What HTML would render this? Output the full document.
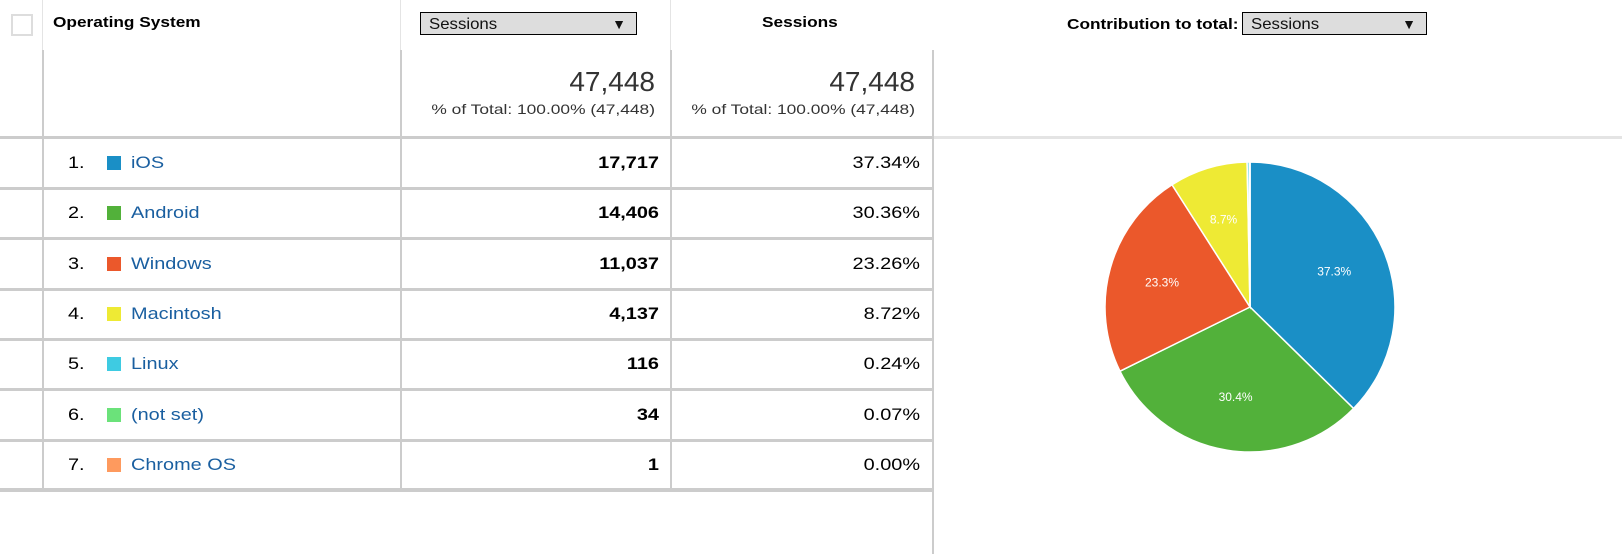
<!DOCTYPE html>
<html><head><meta charset="utf-8"><style>
body{margin:0;width:1622px;height:554px;background:#fff;font-family:"Liberation Sans",Arial,sans-serif;position:relative;overflow:hidden}
.a{position:absolute}
.vl{position:absolute;width:2px;background:#ccc}
.hl{position:absolute;height:3px;background:#ccc}
.num{position:absolute;text-align:right;font-size:17px;color:#000;transform:scaleX(1.17);transform-origin:right center}
.name{position:absolute;font-size:17px;color:#1a5fa0;transform:scaleX(1.17);transform-origin:left center}
.idx{position:absolute;font-size:17px;color:#000;transform:scaleX(1.17);transform-origin:left center}
.sx{transform:scaleX(1.15);transform-origin:left center}
.sw{position:absolute;width:14px;height:14px}
.dd{position:absolute;height:23px;border:1px solid #000;background:#ddd;font-size:16px;line-height:23px;padding-left:8px;box-sizing:border-box;color:#111}
.dd span{position:absolute;right:10px;top:0;font-size:14px}
.dd b{font-weight:normal;display:inline-block;transform:scaleX(1.05);transform-origin:left center}
</style></head><body>
<div class="a" style="left:11px;top:14px;width:18px;height:18px;border:2px solid #ddd"></div>
<div class="a sx" style="left:53px;top:14px;font-size:15px;font-weight:bold">Operating System</div>
<div class="dd" style="left:420px;top:12px;width:217px"><b>Sessions</b><span>▼</span></div>
<div class="a sx" style="left:762px;top:14px;font-size:15px;font-weight:bold">Sessions</div>
<div class="a sx" style="left:1067px;top:16px;font-size:15px;font-weight:bold">Contribution to total:</div>
<div class="dd" style="left:1242px;top:12px;width:185px"><b>Sessions</b><span>▼</span></div>

<div class="vl" style="left:42px;top:0;height:50px;width:1px;background:#e4e4e4"></div>
<div class="vl" style="left:400px;top:0;height:50px;width:1px;background:#e4e4e4"></div>
<div class="vl" style="left:670px;top:0;height:50px;width:1px;background:#e4e4e4"></div>
<div class="vl" style="left:42px;top:50px;height:440px"></div>
<div class="vl" style="left:400px;top:50px;height:440px"></div>
<div class="vl" style="left:670px;top:50px;height:440px"></div>
<div class="vl" style="left:932px;top:50px;height:504px"></div>
<div class="hl" style="left:0;top:136px;width:934px"></div>
<div class="hl" style="left:934px;top:136px;width:688px;background:#e4e4e4"></div>
<div class="hl" style="left:0;top:488px;width:934px"></div>

<div class="num" style="left:410px;width:245px;top:66px;font-size:28px;color:#333;transform:none">47,448</div>
<div class="num" style="left:410px;width:245px;top:101px;font-size:14px;color:#333;transform:scaleX(1.24)">% of Total: 100.00% (47,448)</div>
<div class="num" style="left:680px;width:235px;top:66px;font-size:28px;color:#333;transform:none">47,448</div>
<div class="num" style="left:680px;width:235px;top:101px;font-size:14px;color:#333;transform:scaleX(1.24)">% of Total: 100.00% (47,448)</div>

<div id="rows"></div>
<svg class="a" style="left:0;top:0" width="1622" height="554" id="pie"></svg>
<script>
const names=["iOS","Android","Windows","Macintosh","Linux","(not set)","Chrome OS"];
const sessions=[17717,14406,11037,4137,116,34,1];
const colors=["#1a8fc6","#52b13a","#eb582b","#eeea34","#3ecbe2","#6be27a","#fe9a5e"];
const total=sessions.reduce((a,b)=>a+b,0);
const rows=document.getElementById('rows');
sessions.forEach((v,i)=>{
  const y=137+i*50.3;
  const cy=y+26;
  let h='';
  h+=`<div class="idx" style="left:68px;top:${cy-10}px">${i+1}.</div>`;
  h+=`<div class="sw" style="left:107px;top:${cy-7}px;background:${colors[i]}"></div>`;
  h+=`<div class="name" style="left:131px;top:${cy-10}px">${names[i]}</div>`;
  h+=`<div class="num" style="left:410px;width:249px;top:${cy-10}px;font-weight:bold">${v.toLocaleString('en-US')}</div>`;
  h+=`<div class="num" style="left:680px;width:240px;top:${cy-10}px">${(v/total*100).toFixed(2)}%</div>`;
  h+=`<div class="hl" style="left:0;top:${y+50}px;width:934px"></div>`;
  rows.insertAdjacentHTML('beforeend',h);
});
const svg=document.getElementById('pie');
const cx=1250,cyp=307,r=145;
let a0=-Math.PI/2;
sessions.forEach((v,i)=>{
  const ang=v/total*2*Math.PI;
  const a1=a0+ang;
  const p=document.createElementNS('http://www.w3.org/2000/svg','path');
  const x0=cx+r*Math.cos(a0),y0=cyp+r*Math.sin(a0),x1=cx+r*Math.cos(a1),y1=cyp+r*Math.sin(a1);
  p.setAttribute('d',`M${cx},${cyp}L${x0},${y0}A${r},${r} 0 ${ang>Math.PI?1:0} 1 ${x1},${y1}Z`);
  p.setAttribute('fill',colors[i]);p.setAttribute('stroke','#fff');p.setAttribute('stroke-width','1.5');
  
  
  svg.appendChild(p);
  if(v/total>0.05){
    const m=(a0+a1)/2;
    const t=document.createElementNS('http://www.w3.org/2000/svg','text');
    t.setAttribute('x',cx+r*0.63*Math.cos(m));t.setAttribute('y',cyp+r*0.63*Math.sin(m)+4);
    t.setAttribute('fill','#fff');t.setAttribute('font-size','12');t.setAttribute('text-anchor','middle');
    t.setAttribute('font-family','Liberation Sans, sans-serif');
    t.textContent=(v/total*100).toFixed(1)+'%';
    
    
    svg.appendChild(t);
  }
  a0=a1;
});
</script>
</body></html>
